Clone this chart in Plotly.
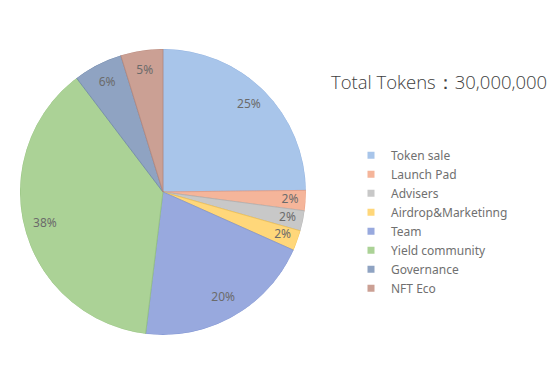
import plotly.graph_objects as go

labels = ["Token sale", "Launch Pad", "Advisers", "Airdrop&Marketinng", "Team",
          "Yield community", "Governance", "NFT Eco"]
values = [25, 2.3, 2.3, 2.3, 20.4, 38.0, 5.6, 4.8]
colors = ["#a8c5ea", "#f5b59a", "#c8c8c8", "#ffd77a", "#98a9de", "#abd296", "#8fa3c2", "#cba094"]
edges = ["#8fb0de", "#e89a7c", "#b0b0b0", "#f0c050", "#7f93d0", "#93c07c", "#7088aa", "#b6867a"]
title_text = "Total Tokens：30,000,000"

dom_x = [0.0214, 0.532]
dom_y = [0.114, 0.889]

total = sum(values)
widths = [v / total * 360 for v in values]
mid_angles = []
acc = 0.0
for w in widths:
    mid_angles.append(acc + w / 2)
    acc += w
pct_text = [f"{round(v / total * 100)}%" for v in values]
label_r = [0.855 if v / total > 0.04 else 0.89 for v in values]

fig = go.Figure()
fig.add_trace(go.Barpolar(
    r=[1] * len(values), theta=mid_angles, width=widths,
    marker=dict(color=colors, line=dict(color=edges, width=0.8)),
    hovertext=labels, hoverinfo="text",
    showlegend=False,
))
fig.add_trace(go.Scatterpolar(
    r=label_r, theta=mid_angles, mode="text", text=pct_text,
    textfont=dict(color="#6b6b6b", size=12, family="Noto Sans"),
    showlegend=False, hoverinfo="skip",
))
for lab, col in zip(labels, colors):
    fig.add_trace(go.Scatter(
        x=[None], y=[None], mode="markers", name=lab,
        marker=dict(symbol="square", size=7, color=col),
    ))

fig.update_layout(
    width=560, height=369,
    margin=dict(l=0, r=0, t=0, b=0),
    paper_bgcolor="white",
    plot_bgcolor="rgba(0,0,0,0)",
    xaxis=dict(visible=False, domain=[0.9, 1]),
    yaxis=dict(visible=False, domain=[0.9, 1]),
    polar=dict(
        domain=dict(x=dom_x, y=dom_y),
        bgcolor="rgba(0,0,0,0)",
        bargap=0,
        radialaxis=dict(visible=False, range=[0, 1]),
        angularaxis=dict(visible=False, rotation=90, direction="clockwise"),
    ),
    showlegend=True,
    legend=dict(x=0.6125, y=0.64, xanchor="left", yanchor="top",
                font=dict(family="Noto Sans", size=12, color="#707070"),
                tracegroupgap=0, itemwidth=30, bgcolor="rgba(0,0,0,0)"),
    annotations=[dict(text=title_text, x=0.574, y=0.80, xref="paper", yref="paper",
                      xanchor="left", yanchor="middle", showarrow=False,
                      font=dict(family="Open Sans", size=18.5, weight=300, color="#404040"))],
)

fig.write_html("out.html")
